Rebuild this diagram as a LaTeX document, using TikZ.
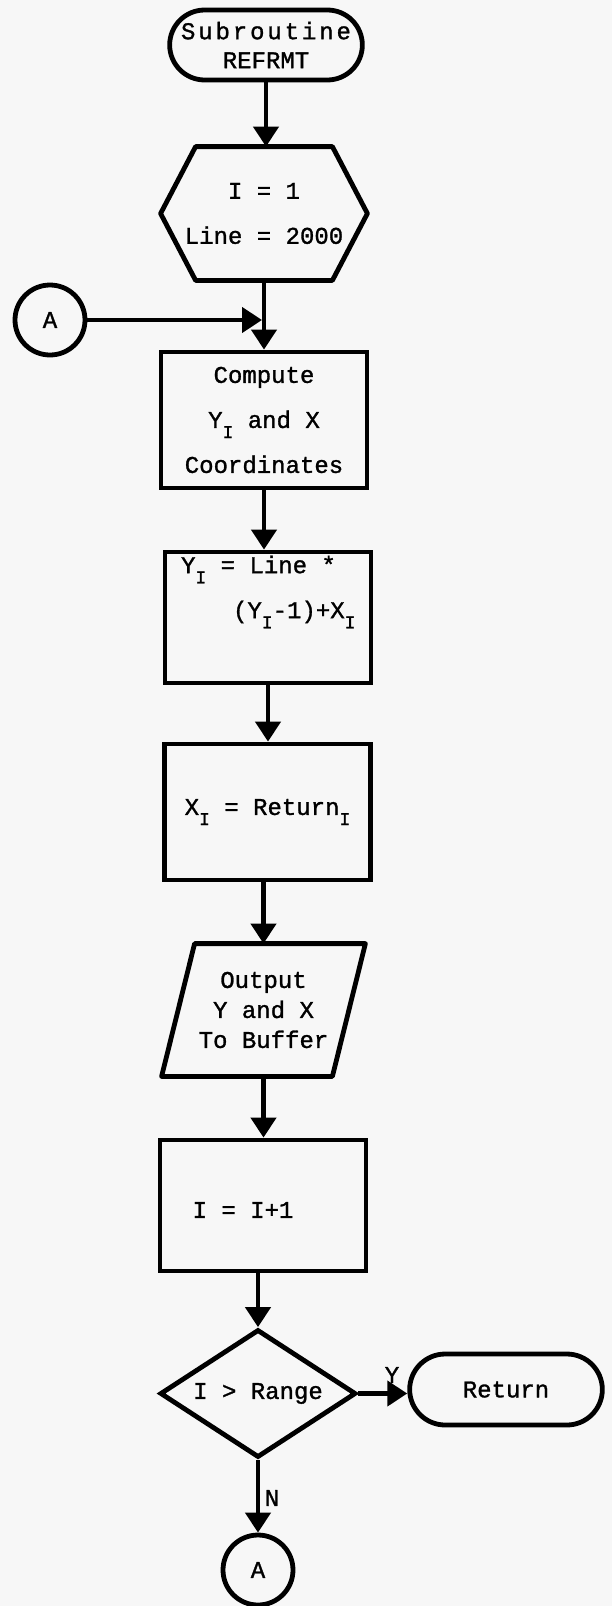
\documentclass[tikz,border=0pt]{standalone}
\usepackage{fontspec}
\setmainfont{Liberation Mono}[FakeBold=1.2]
\usetikzlibrary{arrows.meta,shapes.geometric,shapes.misc,calc}
\newcommand\sbI{\raisebox{-0.8ex}{\small I}}
\begin{document}
\begin{tikzpicture}[x=0.5pt,y=-0.5pt,
 every node/.style={font=\fontsize{12}{22.5}\selectfont, align=center},
 shp/.style={draw, line width=2.4pt},
 box/.style={shp, rectangle, minimum width=103pt, minimum height=66pt},
 term/.style={shp, rounded rectangle, minimum width=103pt, minimum height=35pt},
 conn/.style={shp, circle, minimum size=35pt, inner sep=0pt},
 arr/.style={line width=2.2pt, -{Triangle[length=10pt,width=12.5pt]}},
 lbl/.style={font=\fontsize{12}{14}\selectfont, inner sep=0pt}]
\useasboundingbox (0,0) rectangle (612,1606);
\fill[black!3] (0,0) rectangle (612,1606);

\node[term, font=\fontsize{12}{14.5}\selectfont] (start) at (266,45) {{\addfontfeature{LetterSpace=12}Subroutine}\\REFRMT};

\node[minimum width=103pt, minimum height=66.5pt, inner sep=0pt] (hex) at (264,213.5) {I = 1\\Line = 2000};
\draw[shp, line join=round] (hex.west) -- ($(hex.north west)+(35,0)$) -- ($(hex.north east)+(-35,0)$) -- (hex.east) -- ($(hex.south east)+(-35,0)$) -- ($(hex.south west)+(35,0)$) -- cycle;

\node[box, minimum height=68pt] (comp) at (264,420) {Compute\\Y\sbI{} and X\\Coordinates};

\node[box, minimum height=65.5pt] (calc) at (268,617.5) {};
\node[anchor=west, align=left] (calctext) at (174,592) {Y\sbI{} = Line *\\\hspace*{26pt}(Y\sbI-1)+X\sbI};

\node[box, minimum height=68pt] (ret) at (267.5,812) {X\sbI{} = Return\sbI};

\node[minimum width=101.5pt, minimum height=66pt, inner sep=0pt, font=\fontsize{12}{15}\selectfont] (out) at (263.5,1010) {Output\\Y and X\\To Buffer};
\draw[shp, line join=round] (out.south west) -- ($(out.north west)+(33,0)$) -- (out.north east) -- ($(out.south east)+(-33,0)$) -- cycle;

\node[box, minimum height=65.5pt] (inc) at (263,1205.5) {};
\node (inctext) at (243,1210) {I = I+1};

\node[shp, diamond, aspect=1.5, inner sep=0pt, minimum width=98pt, minimum height=64pt] (dec) at (258,1393.5) {I > Range};
\node[term, minimum height=35.5pt] (rtn) at (506,1389.5) {Return};
\node[conn] (a1) at (50,320) {A};
\node[conn] (a2) at (258,1570) {A};

\draw[arr] (start.south) -- (start.south |- hex.north);
\draw[arr] (hex.south) -- (hex.south |- comp.north);
\coordinate (join) at (hex.south |- a1);
\draw[arr, shorten >=1pt] (a1.east) -- (join);
\draw[arr] (comp.south) -- (comp.south |- calc.north);
\draw[arr] (calc.south) -- (calc.south |- ret.north);
\draw[arr] (out.north |- ret.south) -- (out.north);
\draw[arr] (out.south) -- (out.south |- inc.north);
\draw[arr] (dec.north |- inc.south) -- (dec.north);
\draw[arr] (dec.east) -- (dec.east -| rtn.west);
\node[lbl] (ylab) at (392,1375) {Y};
\draw[arr] (dec.south) -- (a2.north);
\node[lbl] (nlab) at (272,1498) {N};
\end{tikzpicture}
\end{document}
